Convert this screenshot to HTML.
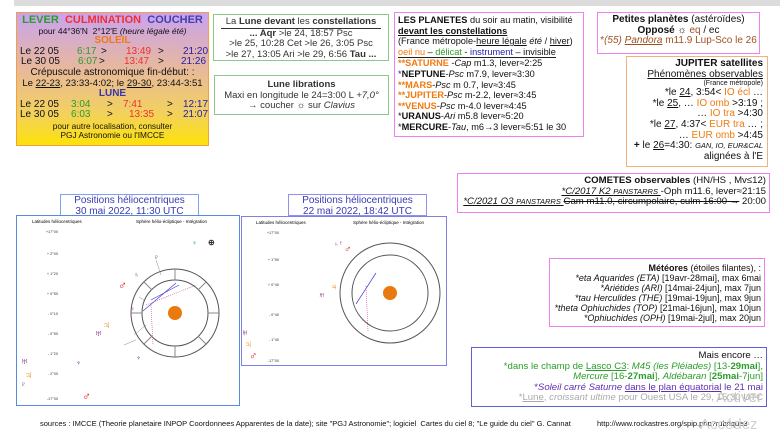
<!DOCTYPE html>
<html><head><meta charset="utf-8"><style>
body{margin:0;width:780px;height:439px;background:#fff;position:relative;overflow:hidden;font-family:"Liberation Sans",sans-serif;color:#111}
.b{position:absolute;box-sizing:border-box;font-size:10px;line-height:10.6px}
.c{text-align:center}.r{text-align:right}
u{text-decoration:underline}
.g{color:#2a9d2a}.red{color:#f03030}.bl{color:#2020b0}.o{color:#f07a10}
.row{position:relative;height:10.6px;text-align:left}
.row span{position:absolute;top:0;white-space:nowrap}
.nw div{white-space:nowrap}
</style></head><body>
<div style="position:absolute;left:14px;top:0;width:766px;height:6px;background:#dcdcdc"></div>

<div class="b c" style="left:16px;top:12px;width:193px;height:134px;border:1px solid #f5a040;background:linear-gradient(#c9a2f0,#e6b7a0 40%,#f2d060 75%,#fde20a);padding-top:2px">
<div style="font-size:11px;font-weight:bold"><span class="g">LEVER</span>&nbsp; <span class="red">CULMINATION</span>&nbsp; <span style="color:#4040b0">COUCHER</span></div>
<div style="font-size:8.5px">pour 44°36'N&nbsp; 2°12'E <i>(heure légale été)</i></div>
<div class="o" style="font-weight:bold">SOLEIL</div>
<div class="row"><span style="left:3px">Le 22 05</span><span class="g" style="left:60px">6:17</span><span style="left:84px">&gt;</span><span class="red" style="left:109px">13:49</span><span style="left:141px">&gt;</span><span class="bl" style="left:166px">21:20</span></div>
<div class="row"><span style="left:4px">Le 30 05</span><span class="g" style="left:61px">6:07</span><span style="left:82px">&gt;</span><span class="red" style="left:107px">13:47</span><span style="left:141px">&gt;</span><span class="bl" style="left:164px">21:26</span></div>
<div>Crépuscule astronomique fin-début: :</div>
<div style="white-space:nowrap;font-size:9.6px">Le <u>22-23</u>, 23:33-4:02; le <u>29-30</u>, 23:44-3:51</div>
<div style="color:#3535b0;font-weight:bold">LUNE</div>
<div class="row"><span style="left:3px">Le 22 05</span><span class="g" style="left:54px">3:04</span><span style="left:90px">&gt;</span><span class="red" style="left:106px">7:41</span><span style="left:150px">&gt;</span><span class="bl" style="left:166px">12:17</span></div>
<div class="row"><span style="left:3px">Le 30 05</span><span class="g" style="left:54px">6:03</span><span style="left:90px">&gt;</span><span class="red" style="left:112px">13:35</span><span style="left:150px">&gt;</span><span class="bl" style="left:166px">21:07</span></div>
<div style="font-size:8.3px;line-height:9.5px;margin-top:1px">pour autre localisation, consulter<br>PGJ Astronomie ou l'IMCCE</div>
</div>

<div class="b c nw" style="left:213px;top:14px;width:176px;height:47px;border:1px solid #8cc88c;padding-top:2px;color:#333;font-size:9.5px">
<div style="width:160px;margin:0 auto;border-bottom:1px solid #333">La <b>Lune devant</b> les <b>constellations</b></div>
<div><b>... Aqr</b> &gt;le 24, 18:57 Psc</div>
<div>&gt;le 25, 10:28 Cet &gt;le 26, 3:05 Psc</div>
<div>&gt;le 27, 13:05 Ari &gt;le 29, 6:56 <b>Tau ...</b></div>
</div>

<div class="b c nw" style="left:214px;top:75px;width:175px;height:40px;border:1px solid #8cc88c;padding-top:4px;color:#333;font-size:9.5px">
<div><b>Lune librations</b></div>
<div>Maxi en longitude le 24=3:00 L <i>+7,0°</i></div>
<div>→ coucher ☼ sur <i>Clavius</i></div>
</div>

<div class="b nw" style="left:394px;top:12px;width:190px;height:125px;border:1px solid #f080f0;padding:2px 3px;font-size:9.2px">
<div><b>LES PLANETES</b> du soir au matin, visibilité</div>
<div><b><u>devant les constellations</u></b></div>
<div>(France métropole-<u>heure légale</u> <i>été</i> / <u>hiver</u>)</div>
<div style="border-bottom:1px solid #222;display:inline-block"><span class="o">oeil nu</span> – <span class="g">délicat</span> - <span class="bl">instrument</span> – invisible</div>
<div><span class="o"><b>**SATURNE</b></span> -<i>Cap</i> m1.3, lever≈2:25</div>
<div><span class="bl">*</span><b>NEPTUNE</b>-<i>Psc</i> m7.9, lever≈3:30</div>
<div><span class="o"><b>**MARS</b></span>-<i>Psc</i> m 0.7, lev≈3:45</div>
<div><span class="o"><b>**JUPITER</b></span>-<i>Psc</i> m-2.2, lever≈3:45</div>
<div><span class="o"><b>**VENUS</b></span>-<i>Psc</i> m-4.0 lever≈4:45</div>
<div>*<b>URANUS</b>-<i>Ari</i> m5.8 lever≈5:20</div>
<div>*<b>MERCURE</b>-<i>Tau</i>, m6→3 lever≈5:51 le 30</div>
</div>

<div class="b c nw" style="left:597px;top:12px;width:163px;height:42px;border:1px solid #f080f0;padding-top:2px">
<div><b>Petites planètes</b> (astéroïdes)</div>
<div><b>Opposé</b> ☼ <span style="color:#a05020">eq</span> / ec</div>
<div style="color:#a05020">*<i>(55) <u>Pandora</u></i> m11.9 Lup-Sco le 26</div>
</div>

<div class="b r nw" style="left:626px;top:56px;width:142px;height:111px;border:1px solid #f5b080;padding:2px 4px 0 0">
<div><b>JUPITER satellites</b></div>
<div><u>Phénomènes observables</u></div>
<div style="font-size:7px;line-height:8px">(France métropole)</div>
<div>*le <u>24</u>, 3:54&lt; <span class="o">IO écl</span> …</div>
<div>*le <u>25</u>, … <span class="o">IO omb</span> &gt;3:19 ;</div>
<div>… <span class="o">IO tra</span> &gt;4:30</div>
<div>*le <u>27</u>, 4:37&lt; <span class="o">EUR tra</span> … ;</div>
<div>… <span class="o">EUR omb</span> &gt;4:45</div>
<div><b>+</b> le <u>26</u>=4:30: <i style="font-size:7.5px">GAN, IO, EUR&amp;CAL</i></div>
<div>alignées à l'E</div>
</div>

<div class="b r nw" style="left:457px;top:173px;width:313px;height:40px;border:1px solid #f080f0;padding:2px 3px 0 0;font-size:9.6px">
<div><b>COMETES observables</b> (HN/HS , Mv≤12)</div>
<div><u><i>*C/2017 K2 <span style="font-size:7.5px">PANSTARRS</span></i> </u>-Oph m11.6, lever≈21:15</div>
<div><u><i>*C/2021 O3 <span style="font-size:7.5px">PANSTARRS</span></i> </u><s>Cam m11.0, circumpolaire, culm 16:00 →</s> 20:00</div>
</div>

<div class="b r nw" style="left:549px;top:258px;width:216px;height:69px;border:1px solid #f080f0;padding:4px 3px 0 0;font-size:9px;line-height:10px">
<div><b>Météores</b> (étoiles filantes), :</div>
<div><i>*eta Aquarides (ETA)</i> [19avr-28mai], max 6mai</div>
<div><i>*Ariétides (ARI)</i> [14mai-24jun], max 7jun</div>
<div><i>*tau Herculides (THE)</i> [19mai-19jun], max 9jun</div>
<div><i>*theta Ophiuchides (TOP)</i> [21mai-16jun], max 10jun</div>
<div><i>*Ophiuchides (OPH)</i> [19mai-2jul], max 20jun</div>
</div>

<div class="b r nw" style="left:471px;top:347px;width:296px;height:60px;border:1px solid #6060d0;padding:3px 3px 0 0;font-size:9.6px">
<div>Mais encore …</div>
<div class="g">*dans le champ de <u>Lasco C3</u>: <i>M45 (les Pléiades)</i> [13-<b>29mai</b>],</div>
<div class="g"><i>Mercure</i> [16-<b>27mai</b>], <i>Aldébaran</i> [<b>25mai</b>-7jun]</div>
<div style="color:#6030b0">*<i>Soleil carré Saturne</i> <u>dans le plan équatorial</u> le 21 mai</div>
<div style="color:#aaa">*<u>Lune</u>, <i>croissant ultime</i> pour Ouest USA le 29, 15:30 UTC</div>
</div>

<div class="b c" style="left:60px;top:194px;width:139px;height:23px;border:1px solid #80a0f0;color:#3a3ab0;line-height:10.5px;padding-top:1px">Positions héliocentriques<br>30 mai 2022, 11:30 UTC</div>
<div class="b c" style="left:288px;top:194px;width:139px;height:22px;border:1px solid #9090f0;color:#3a3ab0;line-height:10.5px;padding-top:1px">Positions héliocentriques<br>22 mai 2022, 18:42 UTC</div>

<svg style="position:absolute;left:16px;top:215px" width="224" height="191">
<rect x="0.5" y="0.5" width="223" height="190" fill="#fff" stroke="#5a8ae0"/>
<text x="16" y="8" font-size="4.5" font-family="Liberation Sans">Latitudes héliocentriques</text>
<text x="120" y="8" font-size="4.5" font-family="Liberation Sans">Sphère hélio-écliptique - Intégration</text>
<g stroke="#555" fill="none"><circle cx="159" cy="98" r="44"/><circle cx="159" cy="98" r="33"/>
<g stroke="#888"><line x1="159" y1="54" x2="159" y2="65"/><line x1="159" y1="131" x2="159" y2="142"/><line x1="115" y1="98" x2="126" y2="98"/><line x1="192" y1="98" x2="203" y2="98"/><line x1="128" y1="67" x2="136" y2="75"/><line x1="190" y1="67" x2="182" y2="75"/><line x1="128" y1="129" x2="136" y2="121"/><line x1="190" y1="129" x2="182" y2="121"/></g></g>
<circle cx="159" cy="98" r="7" fill="#e87a10"/>
<g stroke="#4040d0" stroke-width="0.7"><line x1="127" y1="96" x2="160" y2="68"/><line x1="135" y1="85" x2="163" y2="70"/></g>
<g stroke="#d040a0" stroke-width="0.6" stroke-dasharray="1,1"><line x1="130" y1="90" x2="180" y2="70"/><line x1="135" y1="90" x2="137" y2="130"/></g>
<g fill="none" stroke="#888" stroke-width="0.5"><line x1="140" y1="45" x2="145" y2="60"/><line x1="123" y1="82" x2="128" y2="85"/><line x1="118" y1="120" x2="130" y2="110"/><line x1="108" y1="130" x2="120" y2="125"/></g>
<g font-weight="bold"><text x="137" y="45" fill="#7a2a7a" font-size="9">♇</text><text x="102" y="74" fill="#e02020" font-size="12">♂</text><text x="86" y="114" fill="#f08010" font-size="12">♃</text><text x="78" y="122" fill="#7a2a7a" font-size="12">♅</text><text x="176" y="30" fill="#2a9d2a" font-size="7">♀</text><text x="192" y="30" fill="#333" font-size="8">⊕</text><text x="114" y="96" fill="#d040d0" font-size="7">♀</text><text x="118" y="62" fill="#7a2a2a" font-size="7">♄</text><text x="120" y="145" fill="#3030b0" font-size="7">♆</text></g>
<g font-size="3.8" fill="#333" text-anchor="end"><text x="42" y="18">+17°00</text><text x="42" y="40">+ 2°00</text><text x="42" y="60">+ 1°20</text><text x="42" y="80">+ 0°50</text><text x="42" y="100">- 0°10</text><text x="42" y="120">- 0°50</text><text x="42" y="140">- 1°20</text><text x="42" y="160">- 2°00</text><text x="42" y="185">-17°00</text></g>
<g font-weight="bold"><text x="4" y="150" fill="#7a2a7a" font-size="12">♅</text><text x="8" y="164" fill="#f08010" font-size="12">♃</text><text x="4" y="172" fill="#7a2a7a" font-size="9">♇</text><text x="66" y="185" fill="#e02020" font-size="12">♂</text><text x="60" y="150" fill="#3030b0" font-size="7">♆</text></g>
</svg>

<svg style="position:absolute;left:241px;top:216px" width="206" height="150">
<rect x="0.5" y="0.5" width="205" height="149" fill="#fff" stroke="#8080e0"/>
<text x="15" y="8" font-size="4.5" font-family="Liberation Sans">Latitudes héliocentriques</text>
<text x="112" y="8" font-size="4.5" font-family="Liberation Sans">Sphère hélio-écliptique - Intégration</text>
<g stroke="#555" fill="none"><circle cx="149" cy="77" r="50"/><circle cx="149" cy="77" r="38"/></g>
<circle cx="149" cy="77" r="7" fill="#e87a10"/>
<line x1="115" y1="88" x2="135" y2="57" stroke="#4040d0" stroke-width="0.7"/>
<line x1="125" y1="70" x2="127" y2="115" stroke="#d040a0" stroke-width="0.6" stroke-dasharray="1,1"/>
<g font-weight="bold"><text x="103" y="36" fill="#e02020" font-size="10">♂</text><text x="89" y="74" fill="#f08010" font-size="10">♃</text><text x="77" y="82" fill="#7a2a7a" font-size="10">♅</text><text x="97" y="29" fill="#7a2a7a" font-size="7">♇</text><text x="0" y="120" fill="#7a2a7a" font-size="11">♅</text><text x="3" y="132" fill="#f08010" font-size="11">♃</text><text x="8" y="143" fill="#e02020" font-size="11">♂</text><text x="93" y="30" fill="#7a2a2a" font-size="6">♄</text></g>
<g font-size="3.8" fill="#333" text-anchor="end"><text x="38" y="18">+17°00</text><text x="38" y="45">+ 1°50</text><text x="38" y="70">+ 0°40</text><text x="38" y="100">- 0°40</text><text x="38" y="125">- 1°40</text><text x="38" y="146">-17°00</text></g>
</svg>

<div class="b" style="left:40px;top:419px;font-size:7.5px;white-space:nowrap">sources : IMCCE (Theorie planetaire INPOP Coordonnees Apparentes de la date); site "PGJ Astronomie"; logiciel&nbsp; Cartes du ciel 8; "Le guide du ciel" G. Cannat</div>
<div class="b" style="left:597px;top:419px;font-size:7.5px">http://www.rockastres.org/spip.php?rubrique3</div>
<div class="b" style="left:716px;top:393px;font-size:15px;color:#c8c8c8">Activer</div>
<div class="b" style="left:700px;top:420px;font-size:15px;color:#d0d0d0">Accédez</div>
</body></html>
